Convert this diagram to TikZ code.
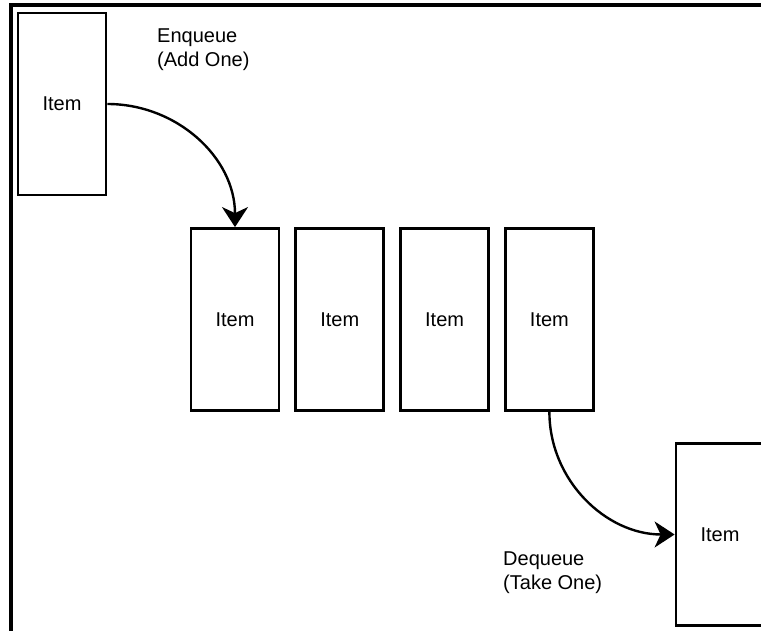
\documentclass[tikz,border=0pt]{standalone}
\usepackage{fontspec}
\setmainfont{Liberation Sans}
\usetikzlibrary{arrows.meta, positioning}

\begin{document}
\begin{tikzpicture}[
    x=1pt, y=1pt,
    node distance=14pt,
    item/.style={draw, line width=2.8pt, minimum width=88pt, minimum height=182pt,
                 inner sep=0pt, font=\fontsize{20}{24}\selectfont},
    lbl/.style={align=left, anchor=north west, inner sep=0pt,
                font=\fontsize{20}{24}\selectfont},
    arr/.style={-{Stealth[length=20pt, width=26pt, inset=6pt]}, line width=2.4pt}
  ]
  \clip (0,0) rectangle (761,-631);
  \useasboundingbox (0,0) rectangle (761,-631);
  \draw[line width=3.2pt] (11,-5) rectangle (800,-700);

  \node[item] (in) at (62,-104) {Item};
  \node[item] (q1) at (235,-319.5) {Item};
  \node[item, right=of q1] (q2) {Item};
  \node[item, right=of q2] (q3) {Item};
  \node[item, right=of q3] (q4) {Item};
  \node[item] (out) at (720,-534.5) {Item};

  \node[lbl] (enq) at (157,-29) {Enqueue\\(Add One)};
  \node[lbl] (deq) at (503,-552) {Dequeue\\(Take One)};

  \draw[arr] (in.east) to[out=0, in=90] (q1.north);
  \draw[arr] (q4.south) to[out=-90, in=180] (out.west);
\end{tikzpicture}
\end{document}
